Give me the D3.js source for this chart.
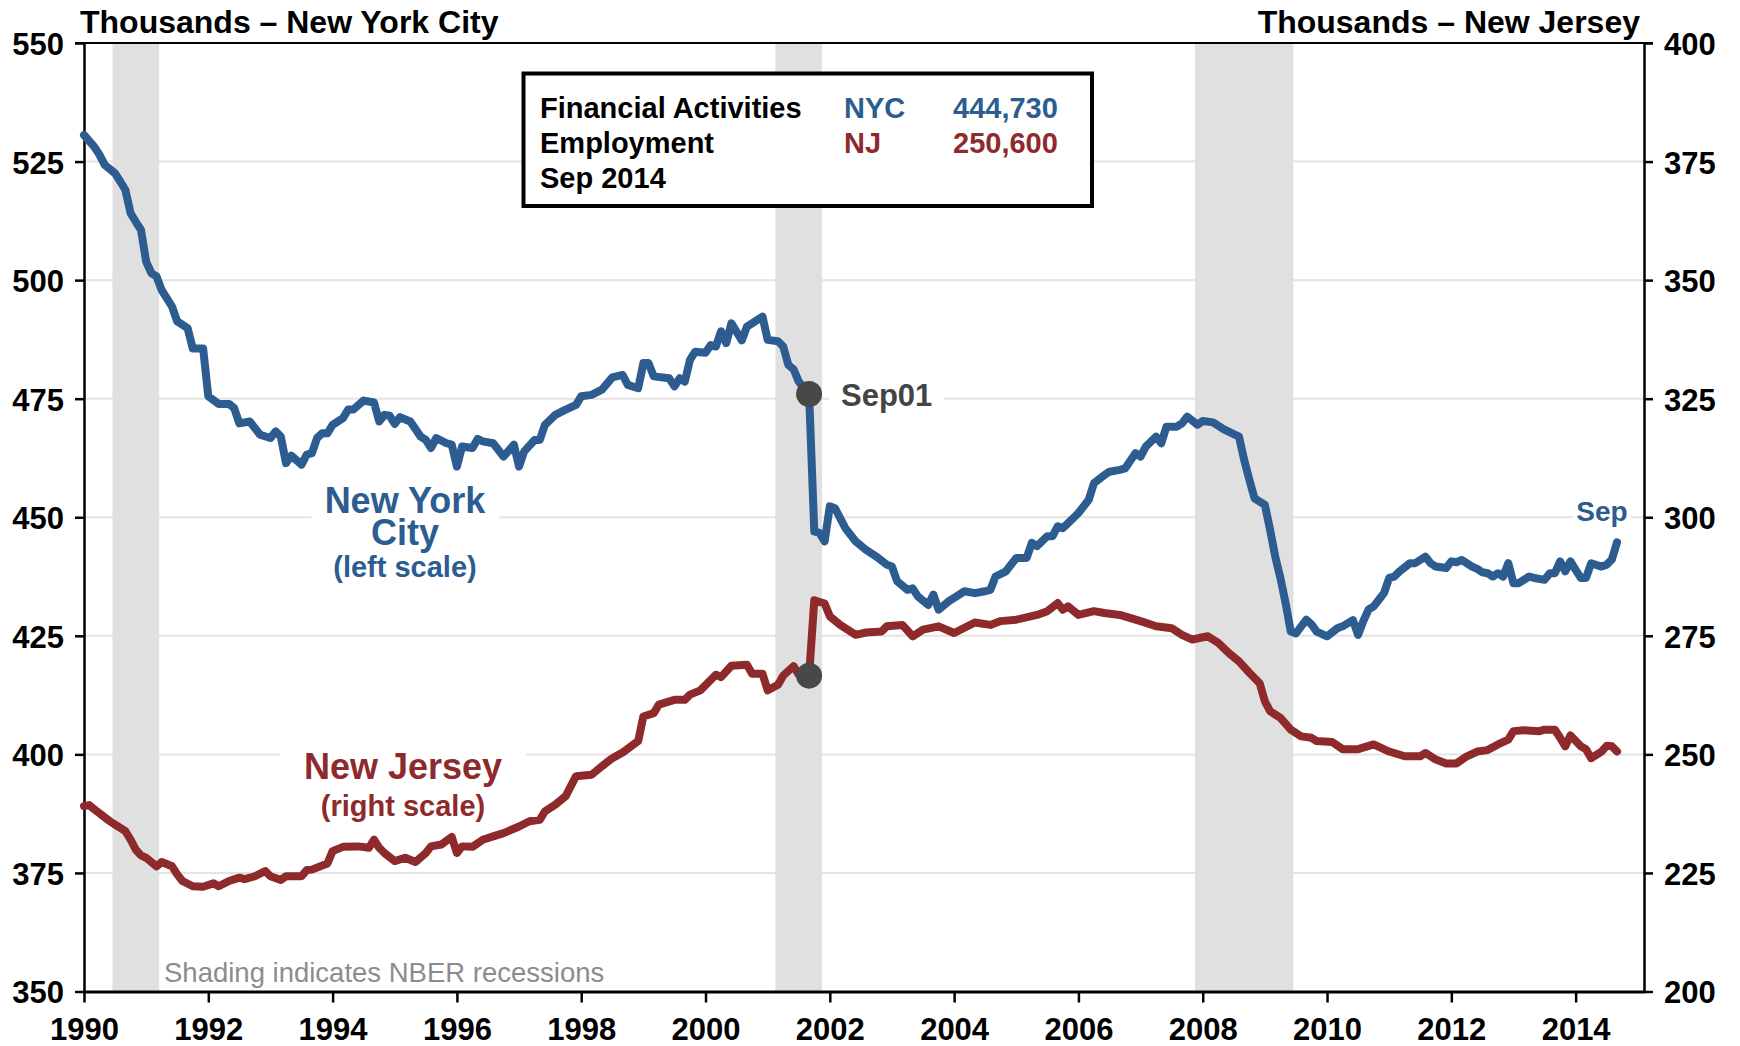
<!DOCTYPE html>
<html>
<head>
<meta charset="utf-8">
<script src="https://cdn.jsdelivr.net/npm/d3@7"></script>
<style>
  html, body { margin: 0; padding: 0; background: #fff; }
  svg { display: block; font-family: "Liberation Sans", Arial, Helvetica, sans-serif; }
</style>
</head>
<body>
<svg id="chart" width="1740" height="1046"></svg>
<script>
// Financial activities employment, NYC (left scale) vs New Jersey (right scale), thousands.
// Months are counted from January 1990 (0 = Jan 1990).
const nycMonths = [0,2,3,4,6,7,8,9,10,11,12,13,14,15,17,18,20,21,23,24,26,28,29,30,32,34,36,37,38,39,40,42,43,44,45,46,47,48,50,51,52,54,56,57,58,59,60,61,63,65,66,67,68,70,71,72,73,75,76,77,79,81,83,84,85,87,88,89,91,93,95,96,98,100,102,104,105,107,108,109,110,113,114,115,116,117,118,120,121,122,123,124,125,127,128,131,132,134,135,136,137,138,140,141,142,143,144,145,147,149,151,153,155,156,157,159,160,161,163,164,165,167,169,170,172,174,175,176,178,180,182,183,184,186,187,188,189,191,192,194,195,197,198,200,201,203,204,205,207,208,209,211,212,213,215,216,218,220,223,224,225,226,228,229,230,231,232,233,234,236,237,238,240,242,243,245,246,247,248,249,250,251,252,253,254,256,257,259,260,261,263,264,265,266,268,269,270,271,272,273,274,275,276,277,279,280,282,283,284,285,286,287,288,289,290,291,293,294,295,296];
const nycValues = [530.6,528.1,526.4,524.3,522.5,520.8,519.0,514.1,512.3,510.6,503.9,501.5,500.8,497.9,494.4,491.3,489.9,485.6,485.6,475.5,473.9,473.9,473.0,469.8,470.2,467.4,466.7,468.1,467.0,461.4,463.0,461.1,463.2,463.5,466.7,467.7,467.7,469.5,470.9,472.7,472.7,474.6,474.2,470.2,471.6,471.4,469.7,471.1,470.2,467.0,466.3,464.6,466.7,465.6,465.3,460.7,464.9,464.6,466.5,466.0,465.6,462.8,465.3,460.7,463.9,466.3,466.3,469.5,471.6,472.7,473.7,475.5,475.8,476.9,479.5,480.0,477.9,477.2,482.5,482.5,479.7,479.3,477.6,479.3,478.6,483.2,484.9,484.7,486.3,486.0,489.2,486.7,490.9,487.3,490.2,492.3,487.4,487.1,486.0,482.1,481.2,478.6,476.0,447.0,446.7,444.9,452.3,451.9,447.7,444.9,443.1,441.7,440.0,439.6,436.5,434.7,435.0,433.3,431.5,433.7,430.5,432.3,433.7,434.4,434.0,434.4,434.7,437.5,438.6,441.4,441.4,444.6,443.9,446.0,446.0,448.1,447.7,449.8,450.9,453.7,457.2,458.9,459.6,460.0,460.3,463.5,462.8,464.9,467.0,465.6,469.1,469.1,469.8,471.2,469.5,470.3,470.0,468.6,467.0,462.1,457.9,454.0,452.6,447.4,441.7,437.2,431.9,425.9,425.5,428.4,427.4,425.9,424.9,426.6,427.0,428.3,425.2,428.1,430.5,431.2,432.6,434.0,437.2,437.5,438.6,440.3,440.3,441.7,440.3,439.6,439.3,440.7,440.5,441.0,439.6,439.1,438.4,438.2,437.5,438.2,437.5,440.3,436.1,436.1,437.5,437.2,436.8,438.2,438.2,440.7,438.6,440.7,438.9,437.2,437.2,440.3,439.6,440.0,441.1,444.73];

const njMonths = [0,1,2,5,6,8,9,10,11,12,14,15,17,18,19,21,23,25,26,28,30,31,33,35,36,38,39,42,43,44,47,48,50,53,55,56,57,58,60,62,64,66,67,69,71,72,73,75,77,79,81,84,86,88,89,91,93,95,98,100,102,104,107,108,110,111,114,116,117,119,122,123,125,128,129,131,132,134,135,137,138,140,141,143,144,146,149,151,154,155,158,160,162,165,168,172,175,177,180,184,186,188,189,190,192,195,197,200,204,207,210,212,214,216,217,219,221,223,225,227,228,229,231,233,235,237,238,241,243,246,249,252,255,258,259,261,263,265,267,269,271,273,275,276,278,281,282,284,285,286,287,289,290,291,293,294,295,296];
const njValues = [239.1,239.3,238.4,235.9,235.2,233.8,232.0,229.9,228.7,228.2,226.4,227.3,226.4,224.7,223.3,222.2,222.1,222.8,222.2,223.3,224.0,223.7,224.3,225.4,224.3,223.5,224.3,224.3,225.6,225.7,227.0,229.6,230.5,230.6,230.3,232.0,230.3,229.2,227.5,228.2,227.3,229.2,230.6,231.0,232.6,229.2,230.6,230.5,232.0,232.7,233.4,234.8,235.9,236.2,238.0,239.4,241.2,245.4,245.7,247.5,249.2,250.4,252.8,258.0,258.7,260.5,261.5,261.5,262.6,263.5,266.8,266.3,268.7,268.9,267.0,267.0,263.5,264.7,266.6,268.6,266.8,266.6,282.5,281.8,279.1,277.3,275.2,275.7,275.9,277.0,277.3,274.9,276.3,277.0,275.6,277.8,277.3,278.1,278.4,279.4,280.2,281.9,280.5,281.2,279.4,280.2,279.8,279.4,278.1,277.0,276.6,275.2,274.2,274.7,274.9,273.5,271.4,269.6,267.2,265.0,261.2,259.1,257.7,255.2,253.8,253.5,252.8,252.6,251.1,251.1,252.1,250.6,249.6,249.6,250.3,248.9,248.1,248.1,249.6,250.6,250.9,252.1,253.1,254.9,255.1,254.9,255.2,255.2,253.5,251.7,254.0,251.7,251.1,249.2,250.6,251.8,251.7,250.6];

// NBER recessions: peak month, trough month
const recessionStart = ["1990-07", "2001-03", "2007-12"];
const recessionEnd   = ["1991-03", "2001-11", "2009-06"];

const leftTicks  = [350, 375, 400, 425, 450, 475, 500, 525, 550];
const rightTicks = [200, 225, 250, 275, 300, 325, 350, 375, 400];
const yearTicks  = [1990, 1992, 1994, 1996, 1998, 2000, 2002, 2004, 2006, 2008, 2010, 2012, 2014];

const markMonth = 140;          // Sep 2001
const legendRows = [
  ["Financial Activities", "NYC", "444,730"],
  ["Employment", "NJ", "250,600"],
  ["Sep 2014", "", ""]
];

const BLUE = "#2c5c90", RED = "#8e2a2b", DOT = "#484848";

// ---- scales ----
const X0 = 84, X1 = 1644, Y0 = 43, Y1 = 991.5;
const x  = d3.scaleLinear().domain([1990, 2015.1]).range([X0, X1]);
const yL = d3.scaleLinear().domain([350, 550]).range([Y1, Y0]);
const yR = d3.scaleLinear().domain([200, 400]).range([Y1, Y0]);
const mYear = m => 1990 + m / 12;
const parseMonth = s => { const [yy, mm] = s.split("-").map(Number); return (yy - 1990) * 12 + (mm - 1); };

const svg = d3.select("#chart");

// gridlines
svg.append("g").selectAll("line")
  .data(leftTicks.filter(v => v > 350 && v < 550))
  .join("line")
  .attr("x1", X0).attr("x2", X1)
  .attr("y1", d => yL(d)).attr("y2", d => yL(d))
  .attr("stroke", "#e3e3e3").attr("stroke-width", 2);

// recession shading
svg.append("g").selectAll("rect")
  .data(recessionStart.map((s, i) => [parseMonth(s), parseMonth(recessionEnd[i])]))
  .join("rect")
  .attr("x", d => x(mYear(d[0] - 0.5)))
  .attr("width", d => x(mYear(d[1] + 0.5)) - x(mYear(d[0] - 0.5)))
  .attr("y", Y0).attr("height", Y1 - Y0)
  .attr("fill", "#e0e0e0");

// annotation text (one text element, one tspan per line) on a white backing box
function note(lines, opts) {
  const g = svg.append("g");
  const bg = g.append("rect").attr("fill", "#fff");
  const t = g.append("text")
    .attr("text-anchor", opts.anchor || "middle")
    .attr("font-weight", "bold").attr("fill", opts.color);
  lines.forEach(l => {
    t.append("tspan").attr("x", l.x).attr("y", l.y).attr("font-size", l.size).text(l.text);
  });
  const b = t.node().getBBox();
  bg.attr("x", b.x - opts.padX).attr("y", b.y - opts.padY)
    .attr("width", b.width + 2 * opts.padX).attr("height", b.height + 2 * opts.padY);
  return g;
}

note([
  { text: "New York", x: 405, y: 513, size: 36 },
  { text: "City", x: 405, y: 545, size: 36 },
  { text: "(left scale)", x: 405, y: 577, size: 29 }
], { padX: 13, padY: 2, color: BLUE });

note([
  { text: "New Jersey", x: 403, y: 779, size: 36 },
  { text: "(right scale)", x: 403, y: 816, size: 29 }
], { padX: 24, padY: 2, color: RED });

note([{ text: "Sep01", x: 841, y: 406, size: 31 }], { padX: 12, padY: 2, color: "#444", anchor: "start" });
note([{ text: "Sep", x: 1602, y: 521, size: 28 }], { padX: 3, padY: 1, color: BLUE });

svg.append("text")
  .attr("x", 164).attr("y", 982)
  .attr("font-size", 27.5).attr("fill", "#8c8c8c")
  .text("Shading indicates NBER recessions");

// axes
function styleAxis(g, w) {
  g.select(".domain").attr("stroke", "#000").attr("stroke-width", w);
  g.selectAll(".tick line").attr("stroke", "#000").attr("stroke-width", 2.5);
  g.selectAll(".tick text").attr("fill", "#000").attr("font-size", 31).attr("font-weight", "bold")
    .attr("font-family", "'Liberation Sans', Arial, Helvetica, sans-serif");
}
const gl = svg.append("g").attr("transform", `translate(${X0},0)`)
  .call(d3.axisLeft(yL).tickValues(leftTicks).tickSizeInner(9).tickSizeOuter(0).tickPadding(11));
styleAxis(gl, 2.5); gl.selectAll(".tick text").attr("dy", "0.37em");

const gr = svg.append("g").attr("transform", `translate(${X1},0)`)
  .call(d3.axisRight(yR).tickValues(rightTicks).tickSizeInner(9).tickSizeOuter(0).tickPadding(11));
styleAxis(gr, 2.5); gr.selectAll(".tick text").attr("dy", "0.37em");

svg.append("line").attr("x1", X0 - 9).attr("x2", X1 + 9).attr("y1", Y0).attr("y2", Y0)
  .attr("stroke", "#000").attr("stroke-width", 2);

const gb = svg.append("g").attr("transform", `translate(0,${Y1})`)
  .call(d3.axisBottom(x).tickValues(yearTicks).tickFormat(d3.format("d"))
        .tickSizeInner(11).tickSizeOuter(0).tickPadding(15));
styleAxis(gb, 3);

// series lines
const nyc = nycMonths.map((m, i) => [m, nycValues[i]]);
const nj  = njMonths.map((m, i) => [m, njValues[i]]);
svg.append("path").datum(nj)
  .attr("d", d3.line().x(d => x(mYear(d[0]))).y(d => yR(d[1])))
  .attr("fill", "none").attr("stroke", RED).attr("stroke-width", 8)
  .attr("stroke-linejoin", "round").attr("stroke-linecap", "round");
svg.append("path").datum(nyc)
  .attr("d", d3.line().x(d => x(mYear(d[0]))).y(d => yL(d[1])))
  .attr("fill", "none").attr("stroke", BLUE).attr("stroke-width", 8)
  .attr("stroke-linejoin", "round").attr("stroke-linecap", "round");

// Sep 2001 markers
const nycMark = nyc.find(d => d[0] === markMonth);
const njMark = nj.find(d => d[0] === markMonth);
svg.append("circle").attr("cx", x(mYear(markMonth))).attr("cy", yL(nycMark[1])).attr("r", 13).attr("fill", DOT);
svg.append("circle").attr("cx", x(mYear(markMonth))).attr("cy", yR(njMark[1])).attr("r", 13).attr("fill", DOT);

// legend box
const lg = svg.append("g");
lg.append("rect").attr("x", 523.5).attr("y", 73.5).attr("width", 568.5).attr("height", 132.5)
  .attr("fill", "#fff").attr("stroke", "#000").attr("stroke-width", 4);
const rowY = [117.5, 153, 188];
legendRows.forEach((r, i) => {
  lg.append("text").attr("x", 540).attr("y", rowY[i]).attr("font-size", 29).attr("font-weight", "bold")
    .attr("fill", "#000").text(r[0]);
  const c = i === 0 ? BLUE : RED;
  if (r[1]) lg.append("text").attr("x", 844).attr("y", rowY[i]).attr("font-size", 29).attr("font-weight", "bold")
    .attr("fill", c).text(r[1]);
  if (r[2]) lg.append("text").attr("x", 953).attr("y", rowY[i]).attr("font-size", 29).attr("font-weight", "bold")
    .attr("fill", c).text(r[2]);
});

// axis titles
svg.append("text").attr("x", 80).attr("y", 32.5).attr("font-size", 32).attr("font-weight", "bold")
  .attr("fill", "#000").text("Thousands – New York City");
svg.append("text").attr("x", 1640).attr("y", 32.5).attr("text-anchor", "end").attr("font-size", 32)
  .attr("font-weight", "bold").attr("fill", "#000").text("Thousands – New Jersey");
</script>
</body>
</html>
